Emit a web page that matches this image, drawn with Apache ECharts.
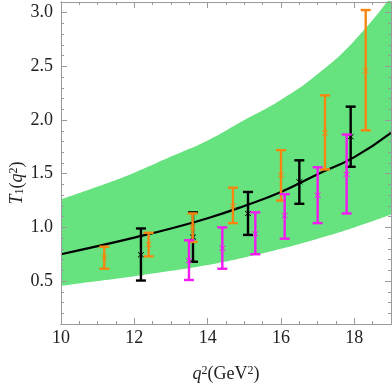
<!DOCTYPE html>
<html lang="en">
  <head>
    <meta charset="UTF-8" />
    <title>T1(q2)</title>
    <script src="https://cdn.jsdelivr.net/npm/echarts/dist/echarts.min.js"></script>
    <style>
      html,
      body {
        margin: 0;
        padding: 0;
        background: #fff;
      }
      #chart {
        width: 392px;
        height: 388px;
      }
    </style>
  </head>
  <body>
    <div id="chart"></div>

    <script>
      // central curve and green band, read at integer q^2
      var curveQ2 = [10, 11, 12, 13, 14, 15, 16, 17, 18, 19];
      var curveT1 = [0.75, 0.825, 0.905, 0.99, 1.085, 1.2, 1.33, 1.495, 1.655, 1.88];
      var bandLower = [0.455, 0.5, 0.545, 0.595, 0.65, 0.72, 0.8, 0.895, 1.0, 1.12];
      var bandUpper = [1.26, 1.38, 1.51, 1.66, 1.81, 2.0, 2.19, 2.43, 2.74, 3.15];

      // error bars
      var orangeQ2 = [11.18, 12.39, 13.59, 14.69, 16.0, 17.2, 18.31];
      var orangeMid = [0.72, 0.84, 1.0, 1.2, 1.49, 1.88, 2.46];
      var orangeLow = [0.615, 0.73, 0.865, 1.04, 1.25, 1.54, 1.905];
      var orangeHigh = [0.82, 0.95, 1.13, 1.37, 1.72, 2.23, 3.025];

      var blackQ2 = [12.18, 13.6, 15.1, 16.5, 17.9];
      var blackMid = [0.745, 0.91, 1.13, 1.425, 1.845];
      var blackLow = [0.505, 0.68, 0.93, 1.22, 1.565];
      var blackHigh = [0.99, 1.14, 1.33, 1.625, 2.125];

      var magentaQ2 = [13.49, 14.4, 15.3, 16.1, 17.0, 17.79];
      var magentaMid = [0.69, 0.805, 0.94, 1.11, 1.3, 1.495];
      var magentaLow = [0.51, 0.615, 0.75, 0.895, 1.04, 1.13];
      var magentaHigh = [0.88, 1.0, 1.14, 1.31, 1.56, 1.865];

      var xMajor = [10, 12, 14, 16, 18];
      var yMajor = [0.5, 1.0, 1.5, 2.0, 2.5, 3.0];

      var font = "Liberation Serif";
      var frameColor = "#9a9a9a";

      var chart = echarts.init(document.getElementById("chart"));

      function pairs(xs, ys) {
        return xs.map(function (x, i) {
          return [x, ys[i]];
        });
      }

      function bars(xs, lo, hi, mid) {
        return xs.map(function (x, i) {
          return [x, lo[i], hi[i], mid[i]];
        });
      }

      function errorBar(color) {
        return function (params, api) {
          var x = api.value(0);
          var lo = api.coord([x, api.value(1)]);
          var hi = api.coord([x, api.value(2)]);
          var mid = api.coord([x, api.value(3)]);
          var cap = 5;
          var st = { stroke: color, lineWidth: 2.4 };
          var thin = { stroke: color, lineWidth: 1 };
          return {
            type: "group",
            children: [
              { type: "line", shape: { x1: lo[0], y1: lo[1], x2: hi[0], y2: hi[1] }, style: st },
              { type: "line", shape: { x1: hi[0] - cap, y1: hi[1], x2: hi[0] + cap, y2: hi[1] }, style: st },
              { type: "line", shape: { x1: lo[0] - cap, y1: lo[1], x2: lo[0] + cap, y2: lo[1] }, style: st },
              { type: "line", shape: { x1: mid[0] - 3, y1: mid[1] - 2.5, x2: mid[0] + 3, y2: mid[1] + 2.5 }, style: thin },
              { type: "line", shape: { x1: mid[0] - 3, y1: mid[1] + 2.5, x2: mid[0] + 3, y2: mid[1] - 2.5 }, style: thin },
            ],
          };
        };
      }

      function xAxisBase(pos, major) {
        return {
          type: "value",
          position: pos,
          min: 10,
          max: 19,
          interval: 0.5,
          z: 10,
          axisLine: { show: true, onZero: false, lineStyle: { color: frameColor, width: 1 } },
          axisTick: major
            ? { show: true, inside: true, length: 6, customValues: xMajor, lineStyle: { color: frameColor } }
            : { show: true, inside: true, length: 3, lineStyle: { color: frameColor } },
          axisLabel: { show: false },
          splitLine: { show: false },
        };
      }

      function yAxisBase(pos, major) {
        return {
          type: "value",
          position: pos,
          min: 0.1,
          max: 3.1,
          interval: 0.1,
          z: 10,
          axisLine: { show: true, onZero: false, lineStyle: { color: frameColor, width: 1 } },
          axisTick: major
            ? { show: true, inside: true, length: 6, customValues: yMajor, lineStyle: { color: frameColor } }
            : { show: true, inside: true, length: 3, lineStyle: { color: frameColor } },
          axisLabel: { show: false },
          splitLine: { show: false },
        };
      }

      var xBottom = xAxisBase("bottom", false);
      xBottom.axisLabel = {
        show: true,
        customValues: xMajor,
        margin: 5,
        color: "#222",
        fontFamily: font,
        fontSize: 18,
      };
      xBottom.name = "{i|q}{s|2}(GeV{s|2})";
      xBottom.nameLocation = "middle";
      xBottom.nameGap = 41;
      xBottom.nameTextStyle = {
        color: "#222",
        fontFamily: font,
        fontSize: 18,
        rich: {
          i: { fontFamily: font, fontSize: 18, fontStyle: "italic", color: "#222" },
          s: { fontFamily: font, fontSize: 12, verticalAlign: "top", color: "#222" },
        },
      };

      var yLeft = yAxisBase("left", false);
      yLeft.axisLabel = {
        show: true,
        customValues: yMajor,
        margin: 8,
        color: "#222",
        fontFamily: font,
        fontSize: 18,
        formatter: function (v) {
          return v.toFixed(1);
        },
      };

      var option = {
        animation: false,
        grid: { left: 61, right: 1, top: 2, bottom: 56 },
        xAxis: [xBottom, xAxisBase("bottom", true), xAxisBase("top", false), xAxisBase("top", true)],
        yAxis: [yLeft, yAxisBase("left", true), yAxisBase("right", false), yAxisBase("right", true)],
        graphic: [
          {
            type: "text",
            x: 17,
            y: 183,
            rotation: Math.PI / 2,
            style: {
              text: "{i|T}{b|1}({i|q}{s|2})",
              align: "center",
              verticalAlign: "middle",
              fontFamily: font,
              fontSize: 18,
              fill: "#222",
              rich: {
                i: { fontFamily: font, fontSize: 18, fontStyle: "italic", fill: "#222" },
                b: { fontFamily: font, fontSize: 12, verticalAlign: "bottom", fill: "#222" },
                s: { fontFamily: font, fontSize: 12, verticalAlign: "top", fill: "#222" },
              },
            },
          },
        ],
        series: [
          // green fill from the band's upper edge down, then white fill below its lower edge
          {
            type: "line",
            data: pairs(curveQ2, bandUpper),
            smooth: true,
            symbol: "none",
            lineStyle: { opacity: 0 },
            areaStyle: { color: "#66e27e", opacity: 1, origin: "start" },
            z: 1,
          },
          {
            type: "line",
            data: pairs(curveQ2, bandLower),
            smooth: true,
            symbol: "none",
            lineStyle: { opacity: 0 },
            areaStyle: { color: "#ffffff", opacity: 1, origin: "start" },
            z: 2,
          },
          {
            type: "line",
            data: pairs(curveQ2, curveT1),
            smooth: true,
            symbol: "none",
            lineStyle: { color: "#000", width: 2.2 },
            z: 3,
          },
          {
            type: "custom",
            data: bars(blackQ2, blackLow, blackHigh, blackMid),
            renderItem: errorBar("#000"),
            z: 4,
          },
          {
            type: "custom",
            data: bars(orangeQ2, orangeLow, orangeHigh, orangeMid),
            renderItem: errorBar("#f7860f"),
            z: 5,
          },
          {
            type: "custom",
            data: bars(magentaQ2, magentaLow, magentaHigh, magentaMid),
            renderItem: errorBar("#f319f3"),
            z: 6,
          },
        ],
      };

      chart.setOption(option);
    </script>
  </body>
</html>
